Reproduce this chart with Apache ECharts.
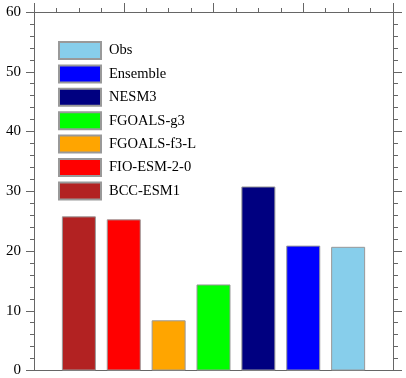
<!DOCTYPE html>
<html>
<head>
<meta charset="utf-8">
<script src="https://cdn.jsdelivr.net/npm/echarts@6/dist/echarts.min.js"></script>
<style>
  html, body { margin: 0; padding: 0; background: #fff; }
  #chart { width: 406px; height: 378px; }
</style>
</head>
<body>
<div id="chart"></div>
<script>
// models in bar order, left to right
var models = ['BCC-ESM1', 'FIO-ESM-2-0', 'FGOALS-f3-L', 'FGOALS-g3', 'NESM3', 'Ensemble', 'Obs']
var values = [25.8, 25.3, 8.4, 14.4, 30.8, 20.9, 20.7]
var colors = ['#B22222', '#FF0000', '#FFA500', '#00FF00', '#000080', '#0000FF', '#87CEEB']
var yTicks = [0, 10, 20, 30, 40, 50, 60]

var font = 'Liberation Serif, Times New Roman, serif'
var axisColor = '#666'

var series = models.map(function (name, i) {
  return {
    name: name,
    type: 'bar',
    xAxisIndex: 0,
    yAxisIndex: 0,
    barWidth: 34,
    barGap: '-100%',
    itemStyle: { color: colors[i], borderColor: '#999', borderWidth: 1 },
    data: [[i + 1, values[i]]]
  }
})

var chart = echarts.init(document.getElementById('chart'))
chart.setOption({
  animation: false,
  backgroundColor: '#fff',
  grid: { left: 34, right: 13, top: 12, bottom: 7 },
  legend: {
    orient: 'vertical',
    left: 58,
    top: 41,
    padding: 0,
    itemWidth: 42,
    itemHeight: 17,
    itemGap: 4.4,
    icon: 'rect',
    data: models.slice().reverse(),
    textStyle: { fontFamily: font, fontSize: 14.5, lineHeight: 17, color: '#000', padding: [0, 0, 0, 3] }
  },
  xAxis: [
    {
      type: 'value', position: 'bottom', min: 0, max: 8, interval: 2,
      axisLine: { onZero: false, lineStyle: { color: axisColor } },
      axisTick: { show: false },
      axisLabel: { show: false },
      splitLine: { show: false }
    },
    {
      type: 'value', position: 'top', min: 0, max: 8, interval: 2,
      axisLine: { show: true, onZero: false, lineStyle: { color: axisColor } },
      axisTick: { show: true, length: 9, lineStyle: { color: axisColor } },
      minorTick: { show: true, splitNumber: 4, length: 4, lineStyle: { color: axisColor } },
      axisLabel: { show: false },
      splitLine: { show: false }
    }
  ],
  yAxis: [
    {
      type: 'value', position: 'left', min: 0, max: 60, interval: 10,
      axisLine: { show: true, onZero: false, lineStyle: { color: axisColor } },
      axisTick: { show: true, length: 8, lineStyle: { color: axisColor } },
      minorTick: { show: true, splitNumber: 5, length: 4, lineStyle: { color: axisColor } },
      axisLabel: {
        margin: 13, fontFamily: font, fontSize: 15, color: '#000',
        formatter: function (v) { return yTicks.indexOf(v) >= 0 ? String(v) : '' }
      },
      splitLine: { show: false }
    },
    {
      type: 'value', position: 'right', min: 0, max: 60, interval: 10,
      axisLine: { show: true, onZero: false, lineStyle: { color: axisColor } },
      axisTick: { show: true, length: 9, lineStyle: { color: axisColor } },
      minorTick: { show: true, splitNumber: 5, length: 5, lineStyle: { color: axisColor } },
      axisLabel: { show: false },
      splitLine: { show: false }
    }
  ],
  series: series
})
</script>
</body>
</html>
